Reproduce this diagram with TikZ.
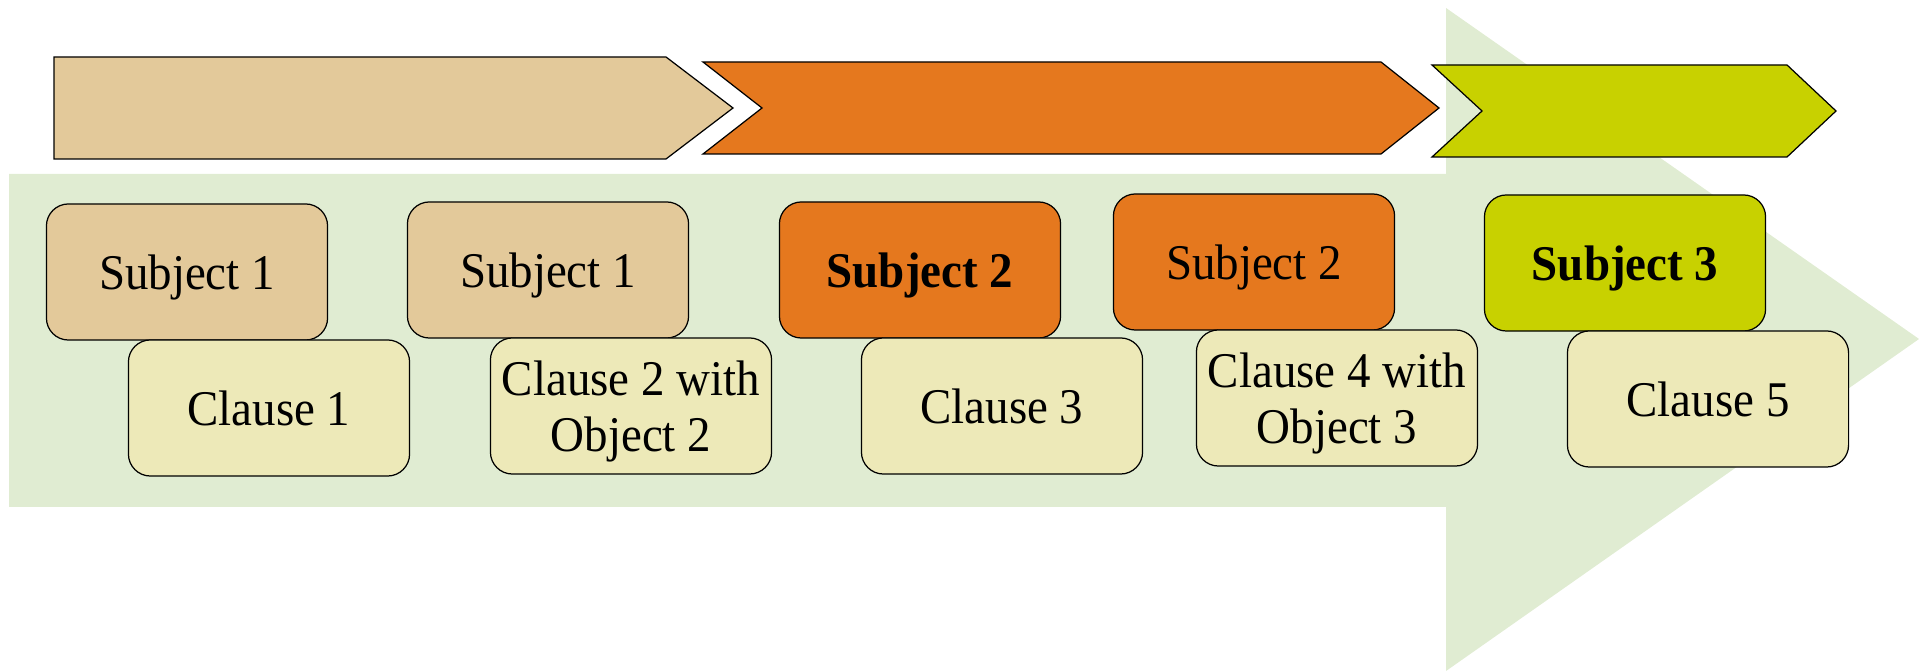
\documentclass[tikz,border=0pt]{standalone}
\usepackage{fontspec}
\setmainfont[FakeStretch=0.94]{Liberation Serif}
\usepackage{tikz}

\definecolor{tanfill}{RGB}{227,201,154}
\definecolor{orangefill}{RGB}{229,120,30}
\definecolor{limefill}{RGB}{200,209,0}
\definecolor{clausefill}{RGB}{237,233,184}
\definecolor{arrowfill}{RGB}{224,236,210}

\begin{document}
\begin{tikzpicture}[x=0.01cm,y=-0.01cm,
  every node/.style={draw,rounded corners=0.22cm,line width=0.35pt,
    minimum width=2.81cm,minimum height=1.36cm,inner sep=0pt,align=center,
    text depth=0pt,font=\fontsize{14.2}{16.1}\selectfont},
  subj1/.style={fill=tanfill},
  subj2/.style={fill=orangefill},
  subj3/.style={fill=limefill},
  clause/.style={fill=clausefill}]

  \useasboundingbox (0,0) rectangle (1919,671);

  % Background arrow and the three chevrons
  \fill[arrowfill] (9,174) -- (1446,174) -- (1446,8) -- (1919,339)
    -- (1446,671) -- (1446,507) -- (9,507) -- cycle;
  \filldraw[fill=tanfill,line width=0.35pt] (54,57) -- (666,57) -- (733,108)
    -- (666,159) -- (54,159) -- cycle;
  \filldraw[fill=orangefill,line width=0.35pt] (703,62) -- (1381,62) -- (1439,108)
    -- (1381,154) -- (703,154) -- (762,108) -- cycle;
  \filldraw[fill=limefill,line width=0.35pt] (1432,65) -- (1787,65) -- (1836,111)
    -- (1787,157) -- (1432,157) -- (1482,111) -- cycle;

  % Specification of nodes (position, etc.)
  \node[subj1] (s1a) at (187,272) {Subject 1};
  \node[subj1] (s1b) at (548,270) {Subject 1};
  \node[subj2] (s2a) at (920,270) {\textbf{Subject 2}};
  \node[subj2] (s2b) at (1254,262) {Subject 2};
  \node[subj3] (s3) at (1625,263) {\textbf{Subject 3}};

  \node[clause] (c1) at (269,408) {Clause 1};
  \node[clause] (c2) at (631,406) {Clause 2 with\\Object 2};
  \node[clause] (c3) at (1002,406) {Clause 3};
  \node[clause] (c4) at (1337,398) {Clause 4 with\\Object 3};
  \node[clause] (c5) at (1708,399) {Clause 5};

\end{tikzpicture}
\end{document}
